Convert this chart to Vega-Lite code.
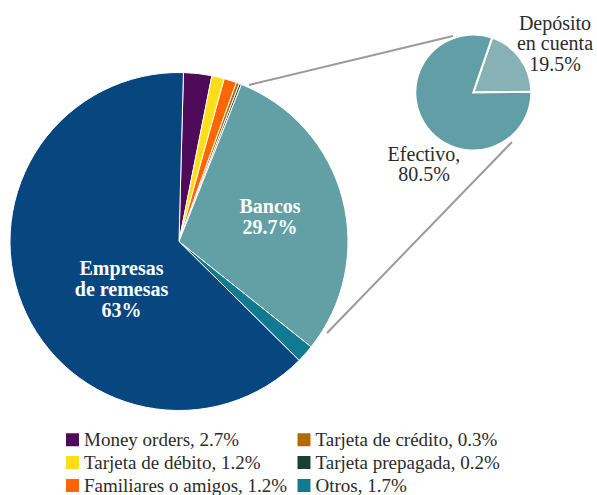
{
  "$schema": "https://vega.github.io/schema/vega-lite/v6.json",
  "width": 597,
  "height": 495,
  "padding": 0,
  "autosize": {"type": "none"},
  "background": "white",
  "config": {"view": {"stroke": null}, "font": "Liberation Serif"},
  "datasets": {
    "principal": [
      {"categoria": "Money orders", "valor": 2.7, "orden": 1, "leyenda": "Money orders, 2.7%"},
      {"categoria": "Tarjeta de débito", "valor": 1.2, "orden": 2, "leyenda": "Tarjeta de débito, 1.2%"},
      {"categoria": "Familiares o amigos", "valor": 1.2, "orden": 3, "leyenda": "Familiares o amigos, 1.2%"},
      {"categoria": "Tarjeta de crédito", "valor": 0.3, "orden": 4, "leyenda": "Tarjeta de crédito, 0.3%"},
      {"categoria": "Tarjeta prepagada", "valor": 0.2, "orden": 5, "leyenda": "Tarjeta prepagada, 0.2%"},
      {"categoria": "Bancos", "valor": 29.7, "orden": 6, "leyenda": "Bancos, 29.7%"},
      {"categoria": "Otros", "valor": 1.7, "orden": 7, "leyenda": "Otros, 1.7%"},
      {"categoria": "Empresas de remesas", "valor": 63, "orden": 8, "leyenda": "Empresas de remesas, 63%"}
    ],
    "bancos": [
      {"categoria": "Depósito en cuenta", "valor": 19.5, "orden": 1, "leyenda": "Depósito en cuenta, 19.5%"},
      {"categoria": "Efectivo", "valor": 80.5, "orden": 2, "leyenda": "Efectivo, 80.5%"}
    ]
  },
  "layer": [
    {
      "data": {"values": [{}]},
      "mark": {"type": "rule", "color": "#9a9a9a", "strokeWidth": 2},
      "encoding": {
        "x": {"datum": 0.4142, "type": "quantitative", "scale": {"domain": [-1.05917, 2.47337], "nice": false, "zero": false}, "axis": null},
        "y": {"datum": 0.926, "type": "quantitative", "scale": {"domain": [-1.5, 1.42899], "nice": false, "zero": false}, "axis": null},
        "x2": {"datum": 1.6213},
        "y2": {"datum": 1.216}
      }
    },
    {
      "data": {"values": [{}]},
      "mark": {"type": "rule", "color": "#9a9a9a", "strokeWidth": 2},
      "encoding": {
        "x": {"datum": 0.8757, "type": "quantitative"},
        "y": {"datum": -0.5414, "type": "quantitative"},
        "x2": {"datum": 1.9704},
        "y2": {"datum": 0.5888}
      }
    },
    {
      "data": {"name": "principal"},
      "mark": {"type": "arc", "outerRadius": 169, "stroke": "white", "strokeWidth": 1},
      "encoding": {
        "theta": {"field": "valor", "type": "quantitative", "stack": true, "scale": {"range": [0.0262, 6.3094]}},
        "order": {"field": "orden", "type": "quantitative"},
        "color": {
          "field": "leyenda",
          "type": "nominal",
          "scale": {
            "domain": ["Money orders, 2.7%", "Tarjeta de débito, 1.2%", "Familiares o amigos, 1.2%", "Tarjeta de crédito, 0.3%", "Tarjeta prepagada, 0.2%", "Otros, 1.7%", "Bancos, 29.7%", "Empresas de remesas, 63%", "Depósito en cuenta, 19.5%", "Efectivo, 80.5%"],
            "range": ["#4f0a5a", "#ffdd1a", "#ff6600", "#b36b00", "#1a3f35", "#0f7a91", "#63a0a6", "#07467f", "#88b1b5", "#629ea6"]
          },
          "legend": {
            "values": ["Money orders, 2.7%", "Tarjeta de débito, 1.2%", "Familiares o amigos, 1.2%", "Tarjeta de crédito, 0.3%", "Tarjeta prepagada, 0.2%", "Otros, 1.7%"],
            "title": null,
            "orient": "none",
            "legendX": 63,
            "legendY": 430,
            "columns": 2,
            "columnPadding": 6.5,
            "rowPadding": 3,
            "symbolType": "square",
            "symbolSize": 169,
            "symbolStrokeWidth": 0,
            "labelOffset": 2,
            "labelFont": "Liberation Serif",
            "labelFontSize": 19,
            "labelColor": "#2b2b2b",
            "labelLimit": 400
          }
        },
        "x": {"datum": 0, "type": "quantitative"},
        "y": {"datum": 0, "type": "quantitative"}
      }
    },
    {
      "data": {"name": "bancos"},
      "mark": {"type": "arc", "outerRadius": 58, "stroke": "white", "strokeWidth": 2},
      "encoding": {
        "theta": {"field": "valor", "type": "quantitative", "stack": true, "scale": {"range": [0.3316, 6.6148]}},
        "order": {"field": "orden", "type": "quantitative"},
        "color": {"field": "leyenda", "type": "nominal"},
        "x": {"datum": 1.7414, "type": "quantitative"},
        "y": {"datum": 0.8817, "type": "quantitative"}
      }
    },
    {
      "data": {"values": [{}]},
      "mark": {"type": "text", "text": ["Empresas", "de remesas", "63%"], "font": "Liberation Serif", "fontWeight": "bold", "fontSize": 20, "lineHeight": 21, "color": "white", "align": "center", "baseline": "middle"},
      "encoding": {"x": {"datum": -0.3402, "type": "quantitative"}, "y": {"datum": -0.1627, "type": "quantitative"}}
    },
    {
      "data": {"values": [{}]},
      "mark": {"type": "text", "text": ["Bancos", "29.7%"], "font": "Liberation Serif", "fontWeight": "bold", "fontSize": 20, "lineHeight": 21, "color": "white", "align": "center", "baseline": "middle"},
      "encoding": {"x": {"datum": 0.5385, "type": "quantitative"}, "y": {"datum": 0.2041, "type": "quantitative"}}
    },
    {
      "data": {"values": [{}]},
      "mark": {"type": "text", "text": ["Depósito", "en cuenta", "19.5%"], "font": "Liberation Serif", "fontSize": 20, "lineHeight": 20.5, "color": "#2b2b2b", "align": "center", "baseline": "middle"},
      "encoding": {"x": {"datum": 2.2249, "type": "quantitative"}, "y": {"datum": 1.2899, "type": "quantitative"}}
    },
    {
      "data": {"values": [{}]},
      "mark": {"type": "text", "text": ["Efectivo,", "80.5%"], "font": "Liberation Serif", "fontSize": 20, "lineHeight": 20, "color": "#2b2b2b", "align": "center", "baseline": "middle"},
      "encoding": {"x": {"datum": 1.4497, "type": "quantitative"}, "y": {"datum": 0.5118, "type": "quantitative"}}
    }
  ],
  "resolve": {"scale": {"theta": "independent"}}
}
